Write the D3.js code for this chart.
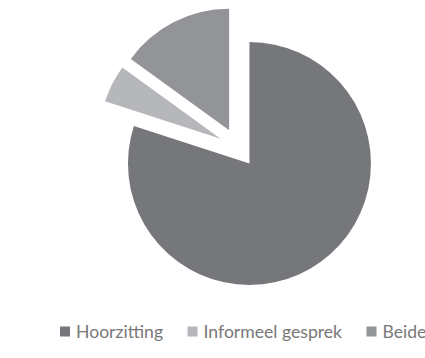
<!DOCTYPE html>
<html>
<head>
<meta charset="utf-8">
<script src="https://cdn.jsdelivr.net/npm/d3@7"></script>
<style>
  html, body { margin: 0; padding: 0; background: #ffffff; }
  svg { display: block; }
</style>
</head>
<body>
<svg id="chart" width="425" height="358"></svg>
<script>
// Share of session types
const categories = ["Hoorzitting", "Informeel gesprek", "Beide"];
const values = [80, 5, 15];
const colors = ["#76777b", "#b6b7ba", "#939498"];

const svg = d3.select("#chart");
const cx = 238, cy = 147.7;
const radius = 121.5;
const explode = 19.5;

const pie = d3.pie().sort(null).value(d => d.value);
const arc = d3.arc().innerRadius(0).outerRadius(radius);

const data = categories.map((c, i) => ({ name: c, value: values[i], color: colors[i] }));
const arcs = pie(data);

const g = svg.append("g").attr("transform", `translate(${cx},${cy})`);

g.selectAll("path")
  .data(arcs)
  .join("path")
  .attr("d", arc)
  .attr("fill", d => d.data.color)
  .attr("transform", d => {
    const mid = (d.startAngle + d.endAngle) / 2;
    return `translate(${explode * Math.sin(mid)},${-explode * Math.cos(mid)})`;
  });

// Legend along the bottom
const legend = svg.append("g").attr("class", "legend");
let x = 60;
const baseY = 337.5;
data.forEach(d => {
  legend.append("rect")
    .attr("x", x).attr("y", 326.5)
    .attr("width", 10).attr("height", 10)
    .attr("fill", d.color);
  const t = legend.append("text")
    .attr("x", x + 16).attr("y", baseY)
    .attr("font-family", "Lato, 'Open Sans', sans-serif")
    .attr("font-size", 17.6)
    .attr("fill", "#787878")
    .text(d.name);
  x += 16 + t.node().getComputedTextLength() + 24.5;
});
</script>
</body>
</html>
